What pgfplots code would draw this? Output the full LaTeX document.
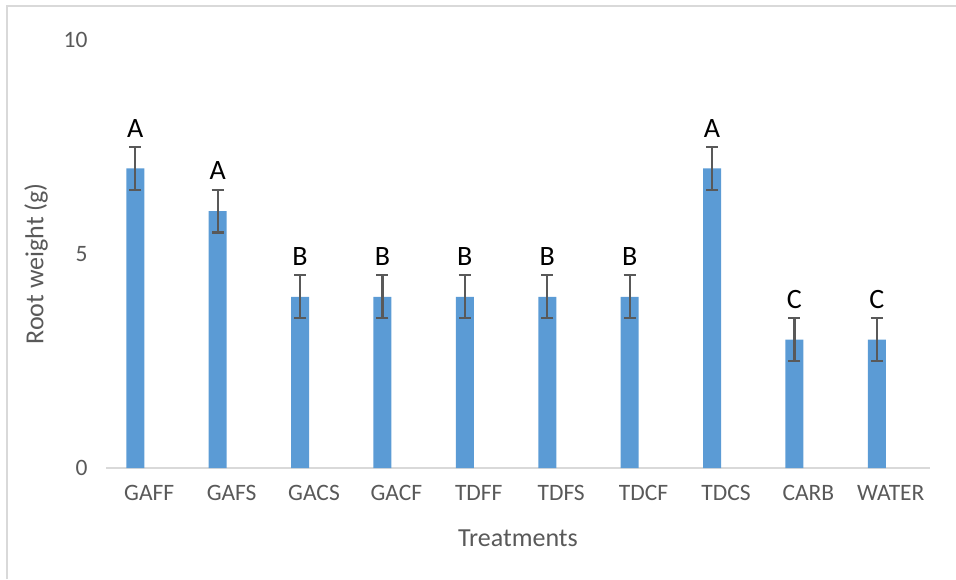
\documentclass[border=0pt]{standalone}
\usepackage{pgfplots}
\usepackage{pgfplotstable}
\pgfplotsset{compat=1.18}
\usepackage{fontspec}
\setmainfont{Carlito}
\definecolor{barblue}{HTML}{5B9BD5}
\definecolor{txtgray}{HTML}{595959}
\definecolor{axgray}{HTML}{D9D9D9}
\pgfplotstableread{
x y e lab
-0.145 7 0.5 A
0.855 6 0.5 A
1.855 4 0.5 B
2.855 4 0.5 B
3.855 4 0.5 B
4.855 4 0.5 B
5.855 4 0.5 B
6.855 7 0.5 A
7.855 3 0.5 C
8.855 3 0.5 C
}\datatable
\begin{document}
\begin{tikzpicture}
\path[use as bounding box] (0,0) rectangle (956pt,579pt);
\draw[axgray, line width=2pt] (7pt,0) -- (7pt,573pt) -- (956pt,573pt);
\begin{axis}[
  at={(106pt,111pt)}, anchor=south west,
  scale only axis, width=824pt, height=428pt,
  xmin=-0.5, xmax=9.5, ymin=0, ymax=10,
  xtick={0,...,9},
  xticklabels={GAFF,GAFS,GACS,GACF,TDFF,TDFS,TDCF,TDCS,CARB,WATER},
  ytick={0,5,10},
  axis line style={draw=none},
  major tick length=0pt,
  tick label style={font=\fontsize{23.5pt}{23.5pt}\selectfont, text=txtgray},
  xticklabel style={yshift=-14pt, xshift=2pt},
  yticklabel style={xshift=-15pt},
  /pgf/number format/assume math mode=true,
  xlabel={Treatments},
  ylabel={Root weight (g)},
  label style={font=\fontsize{26pt}{26pt}\selectfont, text=txtgray},
  xlabel style={at={(axis description cs:0.5,0)}, anchor=center, yshift=-70pt},
  ylabel style={at={(axis description cs:-0.0847,0.477)}, anchor=center},
  clip=false,
]
\draw[axgray, line width=2pt] (axis cs:-0.5,0) -- (axis cs:9.5,0);
\addplot[ybar, bar width=18pt, fill=barblue, draw=none,
  point meta=explicit symbolic,
  nodes near coords,
  nodes near coords style={anchor=south, inner sep=0pt, yshift=31pt,
    font=\fontsize{28pt}{28pt}\selectfont, text=black},
  error bars/.cd, y dir=both, y explicit,
  error bar style={txtgray, line width=2.2pt},
  error mark options={rotate=90, mark size=6pt, txtgray, line width=2.2pt}]
  table[x=x, y=y, y error=e, meta=lab] {\datatable};
\end{axis}
\end{tikzpicture}
\end{document}
